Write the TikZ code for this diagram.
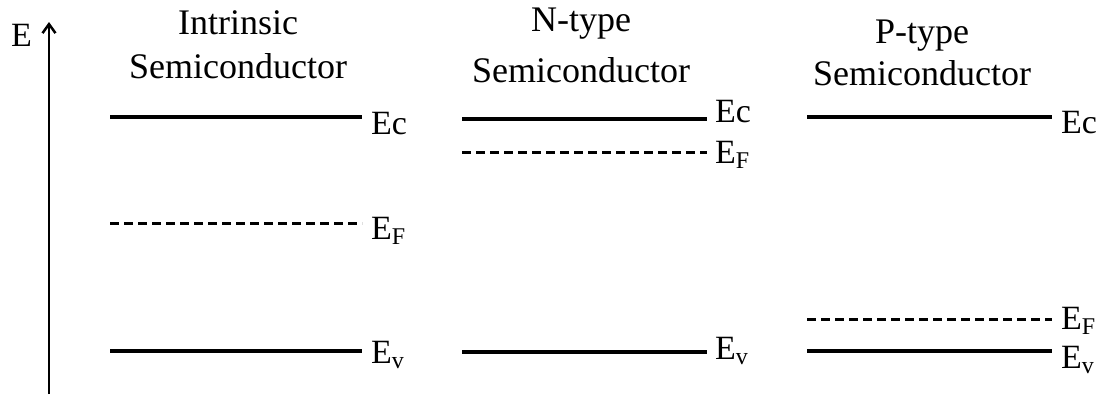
\documentclass[tikz,border=0pt]{standalone}
\usepackage{fontspec}
\setmainfont{Liberation Serif}
\usetikzlibrary{arrows.meta}
\newcommand{\mysub}[1]{\raisebox{-5pt}{\fontsize{24}{24}\selectfont #1}}
\begin{document}
\begin{tikzpicture}[x=1pt,y=-1pt,
  band/.style={line width=4pt},
  fermi/.style={line width=3pt,dash pattern=on 9pt off 5pt},
  lbl/.style={anchor=base west,inner sep=0pt,font=\fontsize{34}{34}\selectfont},
  ttl/.style={anchor=base,inner sep=0pt,align=center,font=\fontsize{36}{44}\selectfont},
  axis/.style={line width=2.5pt,-{Straight Barb[length=9pt,width=13pt,line width=2.5pt]}}]
\useasboundingbox (0,0) rectangle (1103,394);
% axis
\coordinate (a0) at (49,394);
\coordinate (a1) at (49,22);
\draw[axis] (a0) -- (a1);
\node[lbl] (E) at (11,46) {E};
% titles
\node[ttl] (t1) at (238,34) {Intrinsic};
\node[ttl] (t1b) at (238,78) {Semiconductor};
\node[ttl] (t2) at (581,31) {N-type};
\node[ttl] (t2b) at (581,82) {Semiconductor};
\node[ttl] (t3) at (922,43) {P-type};
\node[ttl] (t3b) at (922,85) {Semiconductor};
% intrinsic
\coordinate (i1) at (110,117); \coordinate (i2) at (362,117);
\coordinate (i3) at (110,223); \coordinate (i4) at (362,223);
\coordinate (i5) at (110,351); \coordinate (i6) at (362,351);
\draw[band] (i1) -- (i2);
\draw[fermi] (i3) -- (i4);
\draw[band] (i5) -- (i6);
\node[lbl] (iEc) at (371,134) {Ec};
\node[lbl] (iEF) at (371,239) {E\mysub{F}};
\node[lbl] (iEv) at (371,363) {E\mysub{v}};
% n-type
\coordinate (n1) at (462,119); \coordinate (n2) at (707,119);
\coordinate (n3) at (462,152); \coordinate (n4) at (707,152);
\coordinate (n5) at (462,352); \coordinate (n6) at (707,352);
\draw[band] (n1) -- (n2);
\draw[fermi] (n3) -- (n4);
\draw[band] (n5) -- (n6);
\node[lbl] (nEc) at (715,122) {Ec};
\node[lbl] (nEF) at (715,163) {E\mysub{F}};
\node[lbl] (nEv) at (715,359) {E\mysub{v}};
% p-type
\coordinate (p1) at (807,117); \coordinate (p2) at (1052,117);
\coordinate (p3) at (807,319); \coordinate (p4) at (1052,319);
\coordinate (p5) at (807,351); \coordinate (p6) at (1052,351);
\draw[band] (p1) -- (p2);
\draw[fermi] (p3) -- (p4);
\draw[band] (p5) -- (p6);
\node[lbl] (pEc) at (1061,133) {Ec};
\node[lbl] (pEF) at (1061,329) {E\mysub{F}};
\node[lbl] (pEv) at (1061,368) {E\mysub{v}};
\end{tikzpicture}
\end{document}
